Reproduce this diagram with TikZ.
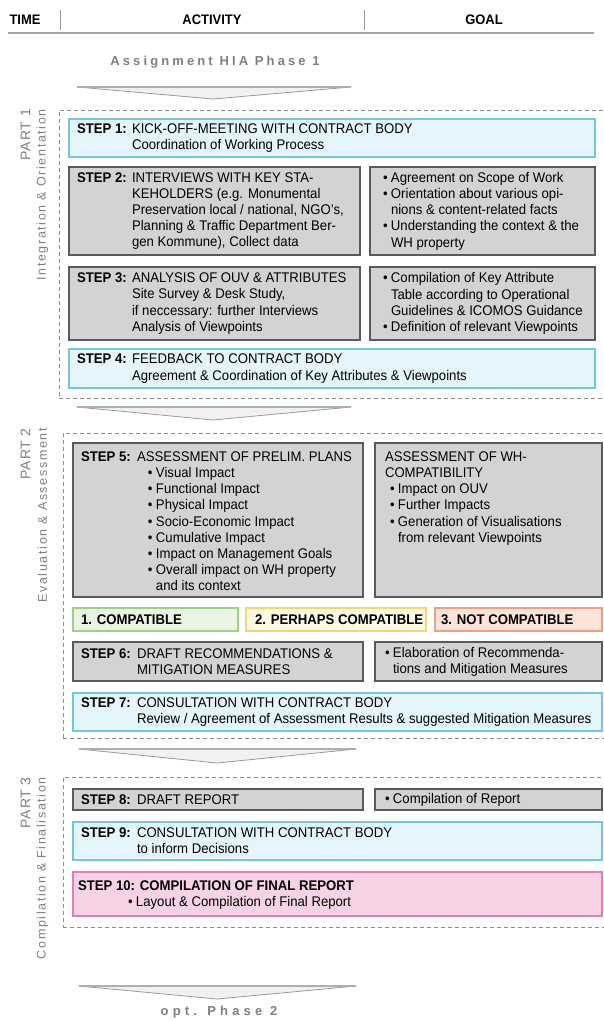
\documentclass[tikz,border=0pt]{standalone}
\usepackage{fontspec}
\setmainfont{Liberation Sans}[FakeStretch=0.94]
\newfontfamily\phasefont[LetterSpace=24]{Liberation Sans}
\newfontfamily\optfont[LetterSpace=32]{Liberation Sans}
\newfontfamily\partfont[LetterSpace=6]{Liberation Sans}
\newfontfamily\subfont[LetterSpace=13]{Liberation Sans}
\usetikzlibrary{fit}
\definecolor{boxgray}{HTML}{D3D3D3}
\definecolor{boxline}{HTML}{5A5A5A}
\definecolor{bluefill}{HTML}{E4F5FB}
\definecolor{blueline}{HTML}{72C6DF}
\definecolor{pinkfill}{HTML}{F8D3E6}
\definecolor{pinkline}{HTML}{E27DB5}
\definecolor{greenfill}{HTML}{E9F4E3}
\definecolor{greenline}{HTML}{9DD089}
\definecolor{yellowfill}{HTML}{FDF8E3}
\definecolor{yellowline}{HTML}{F1D677}
\definecolor{salmonfill}{HTML}{FDE3D8}
\definecolor{salmonline}{HTML}{EF9F83}
\definecolor{dashgray}{HTML}{8C8C8C}
\definecolor{lblgray}{HTML}{808080}
\definecolor{arrowfill}{HTML}{F1F1F1}
\definecolor{arrowline}{HTML}{9A9A9A}
\newcommand\labA[1]{\makebox[55pt][l]{\bfseries #1}}
\newcommand\labB[1]{\makebox[56pt][l]{\bfseries #1}}
\newcommand\bu{\makebox[8pt][l]{•}}
\newcommand\ind{\makebox[8pt]{}}
\newcommand\indB{\makebox[67pt]{}}
\tikzset{
  frame/.style={inner sep=0pt, outer sep=0pt},
  graybox/.style={frame, draw=boxline, fill=boxgray, line width=1.1pt},
  bluebox/.style={frame, draw=blueline, fill=bluefill, line width=1.3pt},
  pinkbox/.style={frame, draw=pinkline, fill=pinkfill, line width=1.3pt},
  greenbox/.style={frame, draw=greenline, fill=greenfill, line width=1.2pt},
  yellowbox/.style={frame, draw=yellowline, fill=yellowfill, line width=1.2pt},
  salmonbox/.style={frame, draw=salmonline, fill=salmonfill, line width=1.2pt},
  dashbox/.style={frame, draw=dashgray, line width=0.8pt, dash pattern=on 4pt off 3pt},
  txt/.style={inner sep=0pt, outer sep=0pt, align=left, anchor=west, text=black,
    font=\fontsize{14pt}{16.2pt}\selectfont},
  btxt/.style={txt, font=\fontsize{14pt}{16.2pt}\selectfont\bfseries},
  hdr/.style={inner sep=0pt, font=\fontsize{13.8pt}{15pt}\selectfont\bfseries},
  phasetxt/.style={inner sep=0pt, text=lblgray, font=\fontsize{13pt}{15pt}\phasefont\bfseries},
  opttxt/.style={inner sep=0pt, text=lblgray, font=\fontsize{13pt}{15pt}\optfont\bfseries},
  partlbl/.style={inner sep=0pt, rotate=90, anchor=east, text=lblgray, font=\fontsize{14pt}{16pt}\partfont},
  sublbl/.style={inner sep=0pt, rotate=90, anchor=east, text=lblgray, font=\fontsize{12.5pt}{14pt}\subfont},
  blockarrow/.style={fill=arrowfill, draw=arrowline, line width=0.8pt, line join=round},
  arrowtop/.style={draw=arrowline!80, line width=1.4pt},
  hline/.style={draw=black!35, line width=1.6pt},
  sepline/.style={draw=black!40, line width=0.9pt}
}
\begin{document}
\begin{tikzpicture}[x=1pt,y=-1pt]
\useasboundingbox[fill=white] (0,0) rectangle (604,1021);

% header
\node[hdr] (hT) at (25,20) {TIME};
\node[hdr] (hA) at (212,20) {ACTIVITY};
\node[hdr] (hG) at (484,20) {GOAL};
\draw[hline] (8,33) -- (594,33);
\draw[sepline] (60,10) -- (60,30);
\draw[sepline] (364,10) -- (364,30);

% phase 1 title and arrow
\node[phasetxt] (ph1) at (215,62) {Assignment HIA Phase 1};
\draw[blockarrow] (77,87) -- (351,87) -- (213,99) -- cycle;
\draw[arrowtop] (77,87) -- (351,87);

% ---------------- PART 1
\node[dashbox, fit={(59,110)(607,398)}] (p1) {};
\node[partlbl] (pl1) at (25.5,109) {PART 1};
\node[sublbl] (sl1) at (42.5,109) {Integration \& Orientation};

\node[bluebox, fit={(69,119)(595,157)}] (s1) {};
\node[txt] (t1) at (77,138) {\labA{STEP 1:}KICK-OFF-MEETING WITH CONTRACT BODY\\\labA{}Coordination of Working Process};

\node[graybox, fit={(69,167)(360,255)}] (s2a) {};
\node[graybox, fit={(370,167)(595,255)}] (s2b) {};
\node[txt] (t2a) at (77,211) {\labA{STEP 2:}INTERVIEWS WITH KEY STA-\\
\labA{}KEHOLDERS (e.g. Monumental\\
\labA{}Preservation local / national, NGO’s,\\
\labA{}Planning \& Traffic Department Ber-\\
\labA{}gen Kommune), Collect data};
\node[txt] (t2b) at (383,211) {\bu Agreement on Scope of Work\\
\bu Orientation about various opi-\\
\ind nions \& content-related facts\\
\bu Understanding the context \& the\\
\ind WH property};

\node[graybox, fit={(69,267)(360,340)}] (s3a) {};
\node[graybox, fit={(370,267)(595,340)}] (s3b) {};
\node[txt] (t3a) at (77,303.5) {\labA{STEP 3:}ANALYSIS OF OUV \& ATTRIBUTES\\
\labA{}Site Survey \& Desk Study,\\
\labA{}if neccessary: further Interviews\\
\labA{}Analysis of Viewpoints};
\node[txt] (t3b) at (383,303.5) {\bu Compilation of Key Attribute\\
\ind Table according to Operational\\
\ind Guidelines \& ICOMOS Guidance\\
\bu Definition of relevant Viewpoints};

\node[bluebox, fit={(69,349)(595,388)}] (s4) {};
\node[txt] (t4) at (77,368.5) {\labA{STEP 4:}FEEDBACK TO CONTRACT BODY\\\labA{}Agreement \& Coordination of Key Attributes \& Viewpoints};

\draw[blockarrow] (77,407) -- (351,407) -- (213,420) -- cycle;
\draw[arrowtop] (77,407) -- (351,407);

% ---------------- PART 2
\node[dashbox, fit={(63,433)(607,738)}] (p2) {};
\node[partlbl] (pl2) at (25.5,428) {PART 2};
\node[sublbl] (sl2) at (42.5,428) {Evaluation \& Assessment};

\node[graybox, fit={(73,443)(363,597)}] (s5a) {};
\node[graybox, fit={(375,443)(602,597)}] (s5b) {};
\node[txt, anchor=north west] (t5a) at (81,451.5) {\labB{STEP 5:}ASSESSMENT OF PRELIM. PLANS\\
\indB\bu Visual Impact\\
\indB\bu Functional Impact\\
\indB\bu Physical Impact\\
\indB\bu Socio-Economic Impact\\
\indB\bu Cumulative Impact\\
\indB\bu Impact on Management Goals\\
\indB\bu Overall impact on WH property\\
\indB\ind and its context};
\node[txt, anchor=north west] (t5b) at (385,451.5) {ASSESSMENT OF WH-\\
COMPATIBILITY\\
\makebox[5pt]{}\bu Impact on OUV\\
\makebox[5pt]{}\bu Further Impacts\\
\makebox[5pt]{}\bu Generation of Visualisations\\
\makebox[5pt]{}\ind from relevant Viewpoints};

\node[greenbox, fit={(73,608)(238,631)}] (c1) {};
\node[yellowbox, fit={(246,608)(426,631)}] (c2) {};
\node[salmonbox, fit={(435,608)(602,631)}] (c3) {};
\node[btxt] (tc1) at (81,619.5) {1. COMPATIBLE};
\node[btxt] (tc2) at (255,619.5) {2. PERHAPS COMPATIBLE};
\node[btxt] (tc3) at (441,619.5) {3. NOT COMPATIBLE};

\node[graybox, fit={(73,642)(363,681)}] (s6a) {};
\node[graybox, fit={(375,642)(602,681)}] (s6b) {};
\node[txt] (t6a) at (81,661.5) {\labB{STEP 6:}DRAFT RECOMMENDATIONS \&\\\labB{}MITIGATION MEASURES};
\node[txt] (t6b) at (385,661.5) {\bu Elaboration of Recommenda-\\\ind tions and Mitigation Measures};

\node[bluebox, fit={(73,693)(602,731)}] (s7) {};
\node[txt] (t7) at (81,712) {\labB{STEP 7:}CONSULTATION WITH CONTRACT BODY\\\labB{}Review / Agreement of Assessment Results \& suggested Mitigation Measures};

\draw[blockarrow] (79,749) -- (356,749) -- (217,763) -- cycle;
\draw[arrowtop] (79,749) -- (356,749);

% ---------------- PART 3
\node[dashbox, fit={(63,777)(607,927)}] (p3) {};
\node[partlbl] (pl3) at (25.5,777) {PART 3};
\node[sublbl] (sl3) at (42.5,777) {Compilation \& Finalisation};

\node[graybox, fit={(73,789)(363,810)}] (s8a) {};
\node[graybox, fit={(375,789)(602,810)}] (s8b) {};
\node[txt] (t8a) at (81,799.5) {\labB{STEP 8:}DRAFT REPORT};
\node[txt] (t8b) at (385,799.5) {\bu Compilation of Report};

\node[bluebox, fit={(73,822)(602,860)}] (s9) {};
\node[txt] (t9) at (81,841) {\labB{STEP 9:}CONSULTATION WITH CONTRACT BODY\\\labB{}to inform Decisions};

\node[pinkbox, fit={(73,872)(602,916)}] (s10) {};
\node[txt] (t10) at (78,895) {\textbf{STEP 10: COMPILATION OF FINAL REPORT}\\\makebox[50pt]{}\bu Layout \& Compilation of Final Report};

% final arrow and phase 2
\draw[blockarrow] (79,986) -- (356,986) -- (217,999) -- cycle;
\draw[arrowtop] (79,986) -- (356,986);
\node[opttxt] (ph2) at (219,1012) {opt. Phase 2};
\end{tikzpicture}
\end{document}
